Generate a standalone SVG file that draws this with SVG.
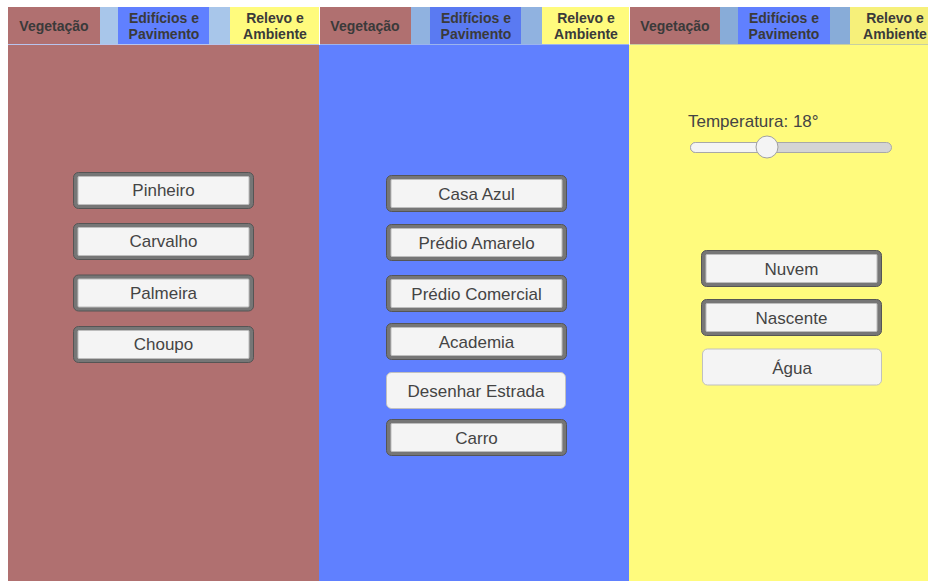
<svg xmlns="http://www.w3.org/2000/svg" width="928" height="581" viewBox="0 0 928 581">
<style>
.tab{font-family:"Liberation Sans",Arial,sans-serif;font-size:14px;font-weight:bold;fill:#3a3a3a;text-anchor:middle}
.lbl{font-family:"Liberation Sans",Arial,sans-serif;font-size:17px;fill:#444;text-anchor:middle}
.bo{fill:#767676;stroke:#555;stroke-width:1}
.bi{fill:#f4f4f4;stroke:#bdbdbd;stroke-width:1}
.bf{fill:#f4f4f4;stroke:#c0c0c0;stroke-width:1}
.red{fill:#b07070}.blue{fill:#6080ff}.yel{fill:#fffb7d}
</style>
<defs>
<g id="btn"><rect class="bo" x="0.5" y="0.5" width="180" height="36" rx="5"/><rect class="bi" x="5" y="4.5" width="171" height="28" rx="1"/></g>
<g id="btnf"><rect class="bf" x="0.5" y="0.5" width="179" height="36" rx="5"/></g>
</defs>
<rect width="928" height="581" fill="#fff"/>
<!-- panels -->
<g id="panel-vegetacao">
<rect class="red" x="8" y="45" width="311" height="536"/>
<rect x="8" y="7" width="311" height="37" fill="#a8c6ea"/>
<rect class="red" x="8" y="7" width="92" height="37"/>
<rect class="blue" x="118" y="7" width="91" height="37"/>
<rect class="yel" x="230" y="7" width="89" height="37"/>
<rect x="8" y="44" width="311" height="1" fill="#b8c4ee"/>
<text class="tab" x="54" y="31">Vegetação</text>
<text class="tab" x="164" y="23">Edifícios e</text>
<text class="tab" x="164" y="39">Pavimento</text>
<text class="tab" x="275" y="23">Relevo e</text>
<text class="tab" x="275" y="39">Ambiente</text>
</g>
<g id="panel-edificios">
<rect class="blue" x="319" y="45" width="310" height="536"/>
<rect x="320" y="7" width="309" height="37" fill="#90b2e0"/>
<rect class="red" x="320" y="7" width="91" height="37"/>
<rect x="430" y="7" width="91" height="37" fill="#5a7af2"/>
<rect class="yel" x="542" y="7" width="87" height="37"/>
<rect x="320" y="44" width="309" height="1" fill="#9cb4ee"/>
<text class="tab" x="365" y="31">Vegetação</text>
<text class="tab" x="476" y="23">Edifícios e</text>
<text class="tab" x="476" y="39">Pavimento</text>
<text class="tab" x="586" y="23">Relevo e</text>
<text class="tab" x="586" y="39">Ambiente</text>
</g>
<g id="panel-relevo">
<rect class="yel" x="629" y="45" width="299" height="536"/>
<rect x="630" y="7" width="298" height="37" fill="#88acd8"/>
<rect class="red" x="630" y="7" width="90" height="37"/>
<rect class="blue" x="738" y="7" width="92" height="37"/>
<rect x="850" y="7" width="78" height="37" fill="#f6f07a"/>
<rect x="630" y="44" width="298" height="1" fill="#c8d0a0"/>
<text class="tab" x="675" y="31">Vegetação</text>
<text class="tab" x="784" y="23">Edifícios e</text>
<text class="tab" x="784" y="39">Pavimento</text>
<text class="tab" x="895" y="23">Relevo e</text>
<text class="tab" x="895" y="39">Ambiente</text>
</g>
<!-- vegetacao buttons -->
<g id="btn-pinheiro"><use href="#btn" x="73" y="172"/><text class="lbl" x="163.5" y="196">Pinheiro</text></g>
<g id="btn-carvalho"><use href="#btn" x="73" y="223"/><text class="lbl" x="163.5" y="247">Carvalho</text></g>
<g id="btn-palmeira"><use href="#btn" x="73" y="274.5"/><text class="lbl" x="163.5" y="299">Palmeira</text></g>
<g id="btn-choupo"><use href="#btn" x="73" y="326"/><text class="lbl" x="163.5" y="350">Choupo</text></g>
<!-- edificios buttons -->
<g id="btn-casa-azul"><use href="#btn" x="386" y="175"/><text class="lbl" x="476.5" y="199.5">Casa Azul</text></g>
<g id="btn-predio-amarelo"><use href="#btn" x="386" y="224"/><text class="lbl" x="476.5" y="248.5">Prédio Amarelo</text></g>
<g id="btn-predio-comercial"><use href="#btn" x="386" y="275"/><text class="lbl" x="476.5" y="299.5">Prédio Comercial</text></g>
<g id="btn-academia"><use href="#btn" x="386" y="323"/><text class="lbl" x="476.5" y="347.5">Academia</text></g>
<g id="btn-desenhar-estrada"><use href="#btnf" x="386" y="372"/><text class="lbl" x="476" y="396.5">Desenhar Estrada</text></g>
<g id="btn-carro"><use href="#btn" x="386" y="419"/><text class="lbl" x="476.5" y="443.5">Carro</text></g>
<!-- relevo -->
<g id="slider-temperatura">
<text class="lbl" x="688" y="127" style="text-anchor:start">Temperatura: 18°</text>
<rect x="690.5" y="142.5" width="201" height="10" rx="5" fill="#d4d4d4" stroke="#a8a8a8"/>
<path d="M767 142.5 H695.5 A5 5 0 0 0 695.5 152.5 H767 Z" fill="#f4f4f4" stroke="#a8a8a8"/>
<circle cx="767" cy="147" r="11" fill="#f4f4f4" stroke="#a0a0a0"/>
</g>
<g id="btn-nuvem"><use href="#btn" x="701" y="250"/><text class="lbl" x="791.5" y="274.5">Nuvem</text></g>
<g id="btn-nascente"><use href="#btn" x="701" y="299"/><text class="lbl" x="791.5" y="323.5">Nascente</text></g>
<g id="btn-agua"><use href="#btnf" x="702" y="348.5"/><text class="lbl" x="792" y="373.5">Água</text></g>
<g id="connectors"/>
</svg>
